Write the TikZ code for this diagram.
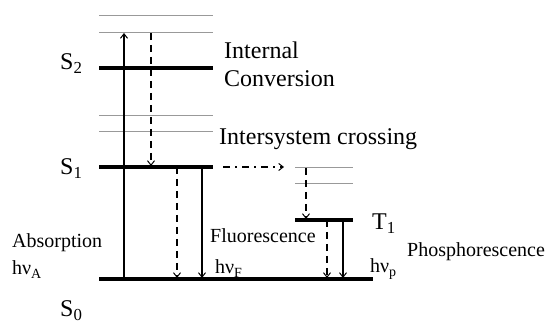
\documentclass[tikz,border=0pt]{standalone}
\usepackage{fontspec}
\setmainfont{Liberation Serif}
\usetikzlibrary{arrows.meta}
\begin{document}
\begin{tikzpicture}[x=1pt,y=-1pt,
  thinlev/.style={draw=black!40,line width=1pt},
  thicklev/.style={draw=black,line width=3.5pt},
  arr/.style={line width=1.2pt,-{Straight Barb[length=4.5pt,width=7pt,line width=1pt]}},
  dsh/.style={arr,dash pattern=on 7pt off 5pt},
  dshdot/.style={arr,dash pattern=on 7pt off 5pt on 2pt off 5pt},
  big/.style={inner sep=0pt,anchor=base west,font=\fontsize{24}{28}\selectfont},
  small/.style={inner sep=0pt,anchor=base west,font=\fontsize{20}{24}\selectfont}]
\useasboundingbox (0,0) rectangle (550,323);
% levels
\draw[thinlev] (99,16) -- (213,16);
\draw[thinlev] (99,33) -- (213,33);
\draw[thicklev] (99,68) -- (213,68);
\draw[thinlev] (99,116) -- (213,116);
\draw[thinlev] (99,132) -- (213,132);
\draw[thicklev] (99,167) -- (213,167);
\draw[thinlev] (295,168) -- (353,168);
\draw[thinlev] (295,184) -- (353,184);
\draw[thicklev] (295,220) -- (353,220);
\draw[thicklev] (99,279) -- (373,279);
% arrow end points
\coordinate (abs0) at (124,279);
\coordinate (abs1) at (124,33);
\coordinate (ic0) at (151,33);
\coordinate (ic1) at (151,166);
\coordinate (nr0) at (177,167);
\coordinate (nr1) at (177,278);
\coordinate (fl0) at (202,167);
\coordinate (fl1) at (202,278);
\coordinate (isc0) at (223,167);
\coordinate (isc1) at (284,167);
\coordinate (t0) at (306,168);
\coordinate (t1) at (306,219);
\coordinate (tn0) at (327,220);
\coordinate (tn1) at (327,278);
\coordinate (ph0) at (343,220);
\coordinate (ph1) at (343,278);
% arrows
\draw[arr] (abs0) -- (abs1);
\draw[dsh] (ic0) -- (ic1);
\draw[dsh] (nr0) -- (nr1);
\draw[arr] (fl0) -- (fl1);
\draw[dshdot] (isc0) -- (isc1);
\draw[dsh] (t0) -- (t1);
\draw[dsh] (tn0) -- (tn1);
\draw[arr] (ph0) -- (ph1);
% labels
\node[big] (s2) at (60,70) {S\textsubscript{2}};
\node[big] (s1) at (60,175) {S\textsubscript{1}};
\node[big] (s0) at (60,317) {S\textsubscript{0}};
\node[big] (tt1) at (372,230) {T\textsubscript{1}};
\node[big] (ic) at (224,59) {Internal};
\node[big] (ic2) at (224,87) {Conversion};
\node[big] (isc) at (219,145) {Intersystem crossing};
\node[small] (ab) at (12,248) {Absorption};
\node[small] (hA) at (12,275) {hν\textsubscript{A}};
\node[small] (fl) at (210,243) {Fluorescence};
\node[small] (hF) at (215,274) {hν\textsubscript{F}};
\node[small] (ph) at (407,257) {Phosphorescence};
\node[small] (hp) at (370,273) {hν\textsubscript{p}};
\end{tikzpicture}
\end{document}
